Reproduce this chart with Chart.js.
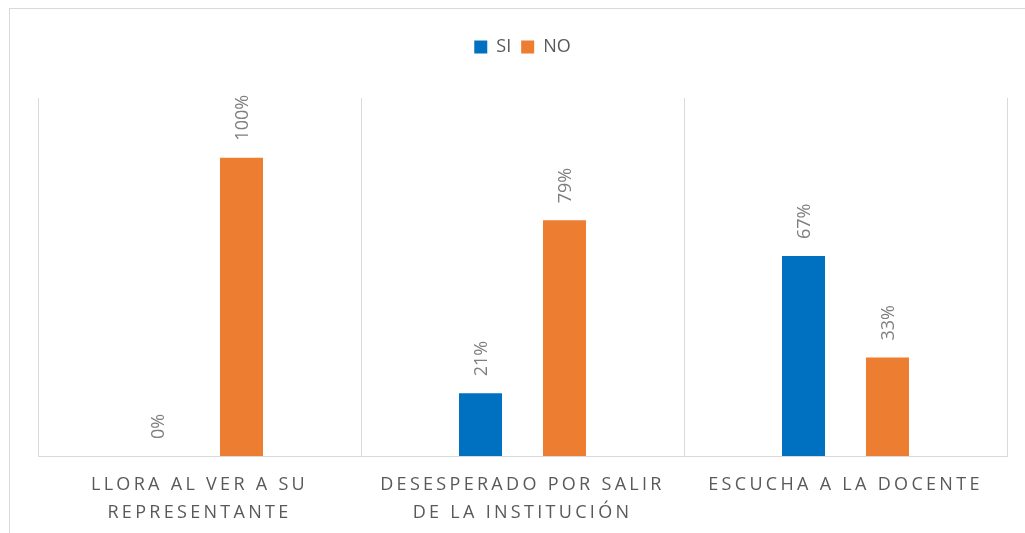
<!DOCTYPE html>
<html>
<head>
<meta charset="utf-8">
<script src="https://cdn.jsdelivr.net/npm/chart.js@4/dist/chart.umd.min.js"></script>
<style>
  html, body { margin: 0; padding: 0; background: #fff; overflow: hidden; }
  #wrap { position: relative; width: 1025px; height: 533px; }
  #frame { position: absolute; left: 9px; top: 8px; width: 2000px; height: 2000px;
           border-top: 1px solid #d9d9d9; border-left: 1px solid #d9d9d9; pointer-events: none; }
</style>
</head>
<body>
<div id="wrap">
  <canvas id="chart" width="1025" height="533"></canvas>
  <div id="frame"></div>
</div>
<script>
// categories (two-line labels) and series values in percent
const categories = [
  ['LLORA AL VER A SU', 'REPRESENTANTE'],
  ['DESESPERADO POR SALIR', 'DE LA INSTITUCIÓN'],
  ['ESCUCHA A LA DOCENTE']
];
const siValues = [0, 21, 67];
const noValues = [100, 79, 33];

const FONT = "'Open Sans', sans-serif";

// rotated value labels above each bar
const barLabels = {
  id: 'barLabels',
  afterDatasetsDraw(chart) {
    const ctx = chart.ctx;
    chart.data.datasets.forEach((ds, i) => {
      const meta = chart.getDatasetMeta(i);
      meta.data.forEach((bar, j) => {
        ctx.save();
        ctx.translate(bar.x, bar.y - 17);
        ctx.rotate(-Math.PI / 2);
        ctx.font = '18px ' + FONT;
        ctx.fillStyle = '#7f7f7f';
        ctx.textAlign = 'left';
        ctx.textBaseline = 'middle';
        ctx.fillText(ds.data[j] + '%', 0, 1);
        ctx.restore();
      });
    });
  }
};

// letter-spaced category labels, fixed legend height
const tweaks = {
  id: 'tweaks',
  beforeInit(chart) {
    const legend = chart.legend;
    const fit = legend.fit;
    legend.fit = function () {
      fit.call(this);
      this.height = 70;
    };
  },
  afterLayout(chart) {
    const sx = chart.scales.x;
    if (!sx._spaced) {
      const orig = sx.drawLabels.bind(sx);
      sx.drawLabels = function (area) {
        chart.ctx.save();
        chart.ctx.letterSpacing = '3.3px';
        orig(area);
        chart.ctx.restore();
      };
      sx._spaced = true;
    }
  }
};

const ctx = document.getElementById('chart').getContext('2d');
new Chart(ctx, {
  type: 'bar',
  data: {
    labels: categories,
    datasets: [
      { label: 'SI', data: siValues, backgroundColor: '#0070c0' },
      { label: 'NO', data: noValues, backgroundColor: '#ed7d31' }
    ]
  },
  options: {
    responsive: false,
    animation: false,
    layout: { padding: { left: 38, right: 18, top: 28, bottom: 0 } },
    datasets: { bar: { categoryPercentage: 0.52, barPercentage: 0.512 } },
    plugins: {
      tooltip: { enabled: false },
      legend: {
        position: 'top',
        labels: {
          boxWidth: 13,
          boxHeight: 13,
          padding: 10,
          color: '#595959',
          font: { family: FONT, size: 18 }
        }
      }
    },
    scales: {
      x: {
        grid: { color: '#d9d9d9', lineWidth: 1, drawTicks: false, offset: true },
        border: { color: '#d9d9d9' },
        ticks: {
          color: '#595959',
          padding: 15,
          maxRotation: 0,
          autoSkip: false,
          font: { family: FONT, size: 18, lineHeight: 1.55 }
        },
        afterFit(scale) { scale.height = 77; }
      },
      y: {
        display: false,
        min: 0,
        max: 120
      }
    }
  },
  plugins: [barLabels, tweaks]
});
</script>
</body>
</html>
